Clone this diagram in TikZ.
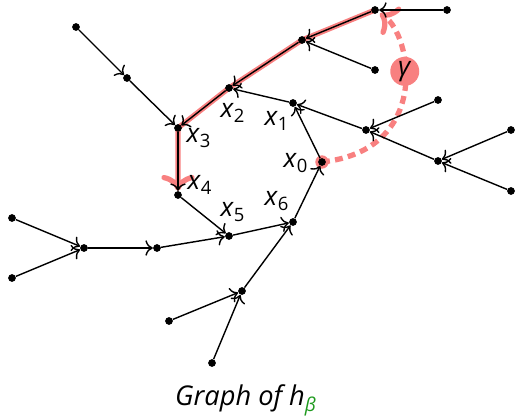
\documentclass[tikz,border=0pt]{standalone}
\usepackage{fontspec}
\setmainfont{Open Sans}
\usepackage{xcolor}
\definecolor{vizPath}{HTML}{F88080}
\definecolor{vizBeta}{HTML}{1E9A1E}
\usetikzlibrary{backgrounds, arrows.meta}

\tikzset{
  dot/.style={circle, fill=black, inner sep=0pt, minimum size=4.4pt},
  edge/.style={-{To[scale=1.25]}, line width=0.8pt},
  lbl/.style={font=\fontsize{15}{15}\selectfont, inner sep=0pt},
}
\newcommand{\xlab}[1]{\textit{x}\textsubscript{#1}}

\begin{document}
\begin{tikzpicture}[x=0.02cm, y=-0.02cm]
  \useasboundingbox (0,0) rectangle (515,420);

  % the loop
  \node[dot] (x0) at (322,162) {};
  \node[dot] (x1) at (293,103) {};
  \node[dot] (x2) at (229,88) {};
  \node[dot] (x3) at (178,128) {};
  \node[dot] (x4) at (178,195) {};
  \node[dot] (x5) at (229,236) {};
  \node[dot] (x6) at (293,222) {};

  \node[lbl] (x0Lbl) at (296,163) {\xlab{0}};
  \node[lbl] (x1Lbl) at (277,121) {\xlab{1}};
  \node[lbl] (x2Lbl) at (233,113) {\xlab{2}};
  \node[lbl] (x3Lbl) at (199,138) {\xlab{3}};
  \node[lbl] (x4Lbl) at (200,185) {\xlab{4}};
  \node[lbl] (x5Lbl) at (233,212) {\xlab{5}};
  \node[lbl] (x6Lbl) at (277,201) {\xlab{6}};

  % trees hanging on the loop
  \node[dot] (a) at (375,10) {};
  \node[dot] (aIn) at (447,10) {};
  \node[dot] (b) at (302,40) {};
  \node[dot] (bIn) at (375,70) {};
  \node[dot] (h) at (127,78) {};
  \node[dot] (hIn) at (76,27) {};
  \node[dot] (c) at (366,130) {};
  \node[dot] (cIn) at (438,100) {};
  \node[dot] (d) at (438,161) {};
  \node[dot] (dInA) at (511,130) {};
  \node[dot] (dInB) at (511,191) {};
  \node[dot] (e) at (84,248) {};
  \node[dot] (eInA) at (12,218) {};
  \node[dot] (eInB) at (12,278) {};
  \node[dot] (f) at (157,248) {};
  \node[dot] (g) at (242,291) {};
  \node[dot] (gInA) at (169,321) {};
  \node[dot] (gInB) at (212,363) {};

  \begin{scope}[on background layer]
    \draw[vizPath, line width=3pt, -{To[scale=1.1]}] (a.center) -- (b.center) -- (x2.center) -- (x3.center) -- (x4);
    \fill[vizPath] (x0) circle (3.8pt);
    \draw[vizPath, line width=3pt, dash pattern=on 4.5pt off 3pt, -{To[scale=1.1]}, shorten >=1pt]
      (x0.center) .. controls (432,150) and (412,35) .. (a)
      node[pos=0.6, circle, fill=vizPath, minimum size=16.5pt, inner sep=0pt, text=black,
           font=\fontsize{15}{15}\selectfont] (gamma) {\textit{γ}};
  \end{scope}

  \draw[edge] (aIn) -- (a);
  \draw[edge] (a) -- (b);
  \draw[edge] (bIn) -- (b);
  \draw[edge] (b) -- (x2);
  \draw[edge] (x1) -- (x2);
  \draw[edge] (x2) -- (x3);
  \draw[edge] (hIn) -- (h);
  \draw[edge] (h) -- (x3);
  \draw[edge] (x3) -- (x4);
  \draw[edge] (x4) -- (x5);
  \draw[edge] (x5) -- (x6);
  \draw[edge] (x6) -- (x0);
  \draw[edge] (x0) -- (x1);
  \draw[edge] (c) -- (x1);
  \draw[edge] (cIn) -- (c);
  \draw[edge] (d) -- (c);
  \draw[edge] (dInA) -- (d);
  \draw[edge] (dInB) -- (d);
  \draw[edge] (eInA) -- (e);
  \draw[edge] (eInB) -- (e);
  \draw[edge] (e) -- (f);
  \draw[edge] (f) -- (x5);
  \draw[edge] (gInA) -- (g);
  \draw[edge] (gInB) -- (g);
  \draw[edge] (g) -- (x6);

  \node[font=\fontsize{15.5}{16}\selectfont] (caption) at (246,400)
    {\textit{Graph of h}\textsubscript{\textcolor{vizBeta}{\textit{β}}}};
\end{tikzpicture}
\end{document}
